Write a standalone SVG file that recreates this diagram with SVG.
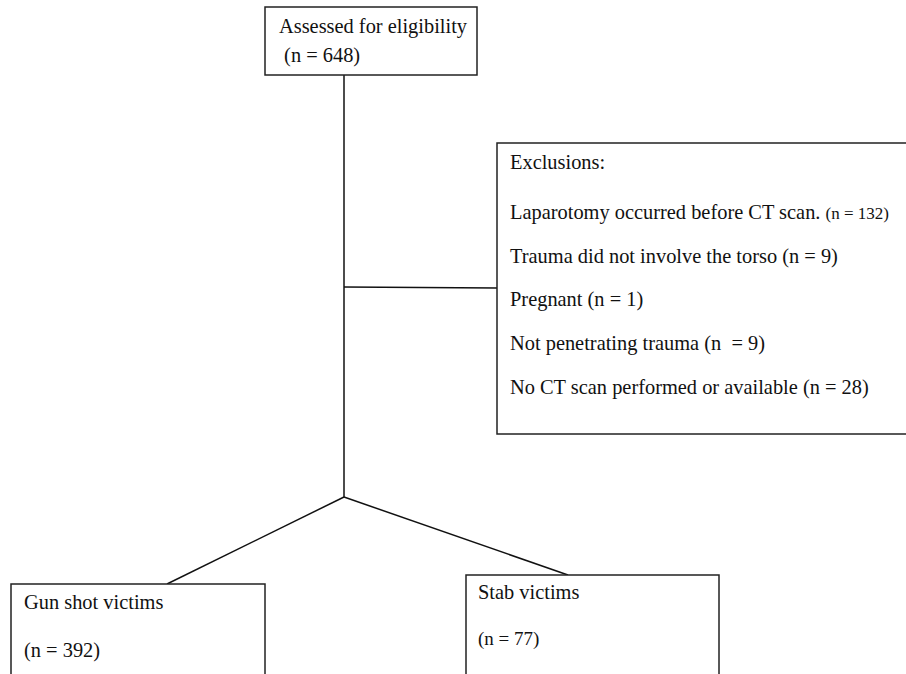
<svg xmlns="http://www.w3.org/2000/svg" width="906" height="674" viewBox="0 0 906 674">
<style>
.box{fill:#fff;stroke:#222;stroke-width:1.5}
.t{font-family:"Liberation Serif","Times New Roman",serif;font-size:20.4px;fill:#111}
.s{font-size:17px}
.m{font-size:19px}
.ln{stroke:#111;stroke-width:1.5;fill:none}
</style>
<rect width="906" height="674" fill="#fff"/>
<g id="connectors">
<line class="ln" x1="344" y1="75" x2="344" y2="497"/>
<line class="ln" x1="344" y1="287" x2="497" y2="288"/>
<line class="ln" x1="344" y1="497" x2="167" y2="584"/>
<line class="ln" x1="344" y1="497" x2="568" y2="575"/>
</g>
<g id="assessed">
<rect class="box" x="265" y="7" width="212" height="68"/>
<text class="t" x="279" y="33">Assessed for eligibility</text>
<text class="t" x="279" y="62" xml:space="preserve"> (n = 648)</text>
</g>
<g id="exclusions">
<rect class="box" x="497" y="143" width="412" height="291"/>
<text class="t" x="510" y="169">Exclusions:</text>
<text class="t" x="510" y="219">Laparotomy occurred before CT scan. <tspan class="s">(n = 132)</tspan></text>
<text class="t" x="510" y="263">Trauma did not involve the torso (n = 9)</text>
<text class="t" x="510" y="306">Pregnant (n = 1)</text>
<text class="t" x="510" y="350" xml:space="preserve">Not penetrating trauma (n  = 9)</text>
<text class="t" x="510" y="394">No CT scan performed or available (n = 28)</text>
</g>
<g id="gunshot">
<rect class="box" x="11" y="584" width="254" height="100"/>
<text class="t" x="24" y="609">Gun shot victims</text>
<text class="t" x="24" y="657">(n = 392)</text>
</g>
<g id="stab">
<rect class="box" x="466" y="575" width="253" height="110"/>
<text class="t" x="478" y="599">Stab victims</text>
<text class="t m" x="478" y="645">(n = 77)</text>
</g>
</svg>
